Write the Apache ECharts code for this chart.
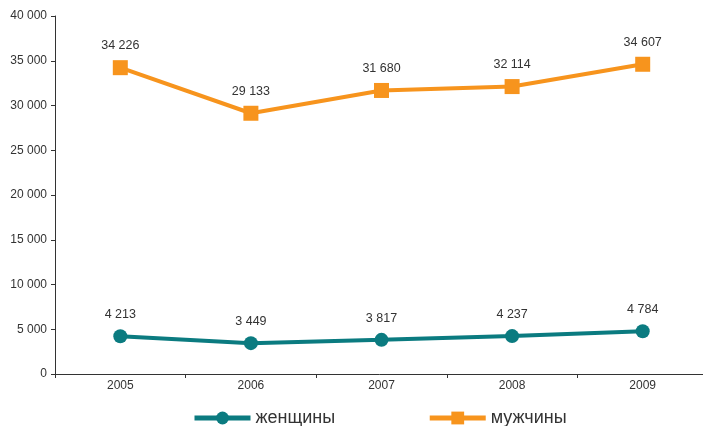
<!DOCTYPE html>
<html>
<head>
<meta charset="utf-8">
<script src="https://cdn.jsdelivr.net/npm/echarts@6/dist/echarts.min.js"></script>
<style>
  html, body { margin: 0; padding: 0; background: #fff; }
  #chart { width: 703px; height: 426px; }
</style>
</head>
<body>
<div id="chart"></div>
<script>
var years = ['2005', '2006', '2007', '2008', '2009'];
var women = [4213, 3449, 3817, 4237, 4784];
var men = [34226, 29133, 31680, 32114, 34607];

var myChart = echarts.init(document.getElementById('chart'));

function fmt(v) {
  return String(v).replace(/\B(?=(\d{3})+(?!\d))/g, ' ');
}

var labelOption = {
  show: true,
  position: 'top',
  distance: 8,
  color: '#333',
  fontSize: 12.5,
  fontFamily: 'Liberation Sans, Arial',
  formatter: function (p) { return fmt(p.value); }
};

var option = {
  animation: false,
  textStyle: { fontFamily: 'Liberation Sans, Arial' },
  grid: { left: 55, top: 16, right: -5, bottom: 52, outerBoundsMode: 'none', containLabel: false },
  legend: {
    bottom: -6,
    left: 187,
    itemWidth: 56,
    itemHeight: 16,
    itemGap: 92,
    lineStyle: { width: 5 },
    textStyle: { fontSize: 18, color: '#333' },
    data: ['женщины', 'мужчины']
  },
  xAxis: {
    type: 'category',
    data: years,
    axisLine: { lineStyle: { color: '#333', width: 1 } },
    axisTick: { show: true, length: 4, inside: false, lineStyle: { color: '#333' } },
    axisLabel: { color: '#333', fontSize: 12, margin: 6 }
  },
  yAxis: {
    type: 'value',
    min: 0,
    max: 40000,
    interval: 5000,
    splitLine: { show: false },
    axisLine: { show: true, lineStyle: { color: '#333', width: 1 } },
    axisTick: { show: true, length: 4, lineStyle: { color: '#333' } },
    axisLabel: { color: '#333', fontSize: 12, margin: 8, formatter: function (v) { return fmt(v); } }
  },
  series: [
    {
      name: 'женщины',
      type: 'line',
      data: women,
      symbol: 'circle',
      symbolSize: 14,
      itemStyle: { color: '#0b7b80' },
      lineStyle: { color: '#0b7b80', width: 4 },
      label: labelOption
    },
    {
      name: 'мужчины',
      type: 'line',
      data: men,
      symbol: 'rect',
      symbolSize: 15,
      itemStyle: { color: '#f7941d' },
      lineStyle: { color: '#f7941d', width: 4 },
      label: labelOption
    }
  ]
};

myChart.setOption(option);
</script>
</body>
</html>
